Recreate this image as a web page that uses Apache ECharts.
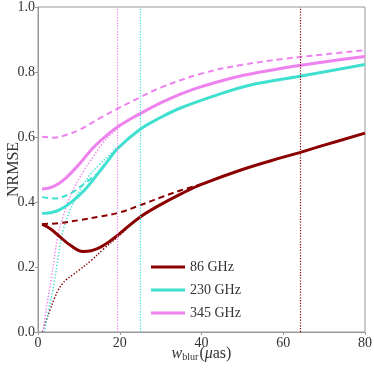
<!DOCTYPE html>
<html>
<head>
<meta charset="utf-8">
<script src="https://cdn.jsdelivr.net/npm/echarts@6/dist/echarts.min.js"></script>
<style>
  html, body { margin: 0; padding: 0; background: #ffffff; }
  #main { width: 374px; height: 368px; }
</style>
</head>
<body>
<div id="main"></div>
<script>
// [w_blur (uas), NRMSE]
var solid86 = [[1,0.332],[3,0.318],[5,0.297],[8,0.266],[11,0.248],[13,0.25],[16,0.266],[19.5,0.298],[25,0.354],[30,0.392],[35,0.425],[40,0.454],[50,0.5],[60,0.538],[64,0.552],[70,0.575],[80,0.612]];
var dashed86 = [[1,0.332],[5,0.335],[10,0.344],[15,0.355],[20,0.368],[25,0.39],[30,0.414],[35,0.436],[40,0.455]];
var dotted86 = [[1.1,0],[2,0.035],[3,0.07],[4,0.103],[5,0.13],[6,0.149],[7,0.162],[8.5,0.176],[10,0.19],[13,0.22],[16,0.255],[19.5,0.292],[22,0.322]];

var solid230 = [[1,0.365],[3,0.367],[5,0.374],[8,0.398],[11.4,0.437],[14.7,0.488],[17,0.525],[19.6,0.566],[25,0.624],[30,0.66],[35,0.69],[43.7,0.729],[52,0.76],[64,0.787],[80,0.823]];
var dashed230 = [[1,0.415],[4,0.411],[8,0.427],[11.4,0.457],[14.5,0.487]];
var dotted230 = [[1.5,0],[2.5,0.06],[4,0.155],[5,0.235],[6.3,0.32],[9,0.406],[12.2,0.475],[15,0.515],[17.5,0.545],[20,0.576]];

var solid345 = [[1,0.44],[3,0.444],[5,0.456],[7,0.476],[10,0.515],[13,0.56],[15,0.585],[19.6,0.632],[25,0.672],[30,0.705],[35,0.733],[40,0.755],[50,0.789],[60,0.812],[70,0.831],[80,0.848]];
var dashed345 = [[1,0.601],[4,0.598],[7,0.607],[10,0.621],[15,0.657],[19.6,0.688],[25,0.722],[30,0.752],[40,0.795],[50,0.822],[60,0.84],[70,0.854],[80,0.867]];
var dotted345 = [[1.3,0],[2,0.07],[3.2,0.16],[4.9,0.3],[6,0.35],[8.2,0.427],[11.4,0.5],[12.6,0.522],[15.8,0.58],[19.6,0.628],[22,0.648]];

var bands = ['86 GHz', '230 GHz', '345 GHz'];
var colors = ['#8b0000', '#40e0d0', '#ee82ee'];
var blurLines = [64.1, 25.1, 19.5];
var xTicks = [0, 20, 40, 60, 80];

var serif = '"Liberation Serif", "DejaVu Serif", serif';

function dotted(data, i) {
  return {
    type: 'line', name: bands[i] + ' dotted', data: data, smooth: 0.4,
    showSymbol: false, silent: true, z: 1,
    lineStyle: { color: colors[i], width: 1.4, type: [1.4, 1.8] },
    markLine: {
      silent: true, symbol: 'none', label: { show: false },
      lineStyle: { color: colors[i], width: 1.2, type: [1.2, 1.6] },
      data: [{ xAxis: blurLines[i] }]
    }
  };
}
function dashed(data, i) {
  return {
    type: 'line', name: bands[i] + ' dashed', data: data, smooth: 0.4,
    showSymbol: false, silent: true, z: 2,
    lineStyle: { color: colors[i], width: 2, type: [6, 4] }
  };
}
function solid(data, i) {
  return {
    type: 'line', name: bands[i], data: data, smooth: 0.4,
    showSymbol: false, silent: true, z: 3,
    itemStyle: { color: colors[i] },
    lineStyle: { color: colors[i], width: 3 }
  };
}

var chart = echarts.init(document.getElementById('main'));
var option = {
  backgroundColor: '#ffffff',
  animation: false,
  grid: { left: 38, right: 9, top: 7, bottom: 36, outerBoundsMode: 'none', containLabel: false,
    show: true, borderColor: '#999', borderWidth: 1 },
  legend: {
    data: bands,
    left: 146, top: 255,
    orient: 'vertical',
    itemWidth: 34, itemHeight: 3, itemGap: 9,
    icon: 'rect',
    textStyle: { fontFamily: serif, fontSize: 14, color: '#333' }
  },
  xAxis: {
    type: 'value', min: 0, max: 80, interval: 20,
    name: '{i|w}{s|blur}{n|(}{i|\u03bc}{n|as)}',
    nameLocation: 'middle', nameGap: 14, nameMoveOverlap: false,
    nameTextStyle: {
      rich: {
        i: { fontFamily: serif, fontStyle: 'italic', fontSize: 16, color: '#333' },
        s: { fontFamily: serif, fontSize: 10, color: '#333', padding: [6, 1, 0, 0] },
        n: { fontFamily: serif, fontSize: 16, color: '#333' }
      }
    },
    axisLine: { show: true, lineStyle: { color: '#999' } },
    axisTick: { show: true, length: 3, lineStyle: { color: '#999' } },
    axisLabel: { fontFamily: serif, fontSize: 14, color: '#333', margin: 4,
      formatter: function (v) { return xTicks.indexOf(v) >= 0 ? String(v) : ''; } },
    splitLine: { show: false }
  },
  yAxis: {
    type: 'value', min: 0, max: 1, interval: 0.2,
    name: 'NRMSE', nameLocation: 'middle', nameGap: 16, nameMoveOverlap: false,
    nameTextStyle: { fontFamily: serif, fontSize: 16, color: '#333' },
    axisLine: { show: true, lineStyle: { color: '#999' } },
    axisTick: { show: true, length: 3, lineStyle: { color: '#999' } },
    axisLabel: { fontFamily: serif, fontSize: 14, color: '#333', margin: 3,
      formatter: function (v) { return v.toFixed(1); } },
    splitLine: { show: false }
  },
  series: [
    dotted(dotted86, 0), dotted(dotted230, 1), dotted(dotted345, 2),
    dashed(dashed86, 0), dashed(dashed230, 1), dashed(dashed345, 2),
    solid(solid86, 0), solid(solid230, 1), solid(solid345, 2)
  ]
};
chart.setOption(option);
</script>
</body>
</html>
